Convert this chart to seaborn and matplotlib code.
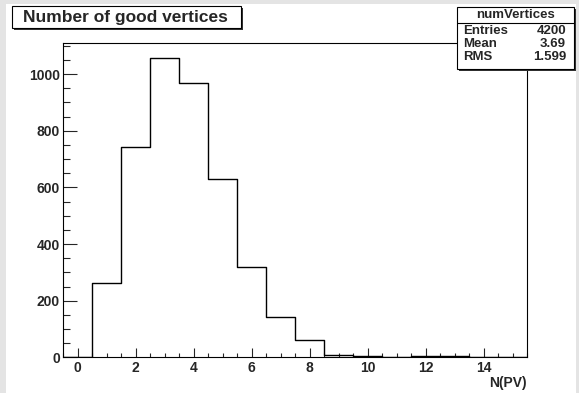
import numpy as np
import pandas as pd
import matplotlib
matplotlib.use("Agg")
import matplotlib.pyplot as plt
import seaborn as sns
from matplotlib.patches import Rectangle
from matplotlib.ticker import MultipleLocator, FixedLocator

# ---------------- data ----------------
bin_centers = [0, 1, 2, 3, 4, 5, 6, 7, 8, 9, 10, 11, 12, 13, 14, 15]
counts = [0, 263, 741, 1056, 970, 631, 318, 142, 61, 8, 4, 0, 3, 3, 0, 0]
x_ticks = [0, 2, 4, 6, 8, 10, 12, 14]
y_ticks = [0, 200, 400, 600, 800, 1000]
title_text = "Number of good vertices"
hist_name = "numVertices"
stats_labels = ["Entries", "Mean", "RMS"]
stats_values = ["4200", "3.69", "1.599"]
x_label = "N(PV)"

# ---------------- figure ----------------
W, H = 579, 393
FONT = "Liberation Sans"
sns.set_style("ticks")
plt.rcParams["font.family"] = [FONT, "DejaVu Sans"]

fig = plt.figure(figsize=(W / 100, H / 100), dpi=100)
fig.patch.set_facecolor("#e4e4e4")


def fx(x):
    return x / W


def fy(y):
    return 1 - y / H


# white pad
fig.add_artist(Rectangle((fx(6), 0), fx(576 - 6), (H - 4) / H,
                         transform=fig.transFigure, facecolor="white",
                         edgecolor="none", zorder=0))

L, R, T, B = 63.3, 527.0, 43.3, 357.3
ax = fig.add_axes([fx(L), fy(B), fx(R - L), (B - T) / H])
ax.set_facecolor("white")

df = pd.DataFrame({"nPV": bin_centers, "count": counts})
edges = [e - 0.5 for e in range(0, 17)]
sns.histplot(data=df, x="nPV", weights="count", bins=edges, element="step",
             fill=False, color="black", linewidth=1.0, ax=ax)

ax.set_xlim(-0.5, 15.5)
ax.set_ylim(0, 1.05 * max(counts))
ax.set_xlabel("")
ax.set_ylabel("")

ax.xaxis.set_major_locator(FixedLocator(x_ticks))
ax.xaxis.set_minor_locator(MultipleLocator(0.5))
ax.yaxis.set_major_locator(FixedLocator(y_ticks))
ax.yaxis.set_minor_locator(MultipleLocator(50))
ax.set_xticklabels([str(v) for v in x_ticks])
ax.set_yticklabels([str(v) for v in y_ticks])

ax.tick_params(axis="x", which="major", direction="in", length=6.5, width=0.8,
               pad=3, labelsize=10, top=False)
ax.tick_params(axis="x", which="minor", direction="in", length=3.2, width=0.8, top=False)
ax.tick_params(axis="y", which="major", direction="in", length=10, width=0.8,
               pad=2.5, labelsize=10, right=False)
ax.tick_params(axis="y", which="minor", direction="in", length=5, width=0.8, right=False)
for lab in ax.get_xticklabels() + ax.get_yticklabels():
    lab.set_fontweight("bold")
for s in ax.spines.values():
    s.set_visible(True)
    s.set_color("black")
    s.set_linewidth(0.8)

fig.text(fx(527), fy(383), x_label, ha="right", va="center",
         fontsize=10, fontweight="bold")


def box(x0, y0, x1, y1):
    # shadow
    fig.add_artist(Rectangle((fx(x0 + 2), fy(y1 + 2)), fx(x1 - x0), (y1 - y0) / H,
                             transform=fig.transFigure, facecolor="#333333",
                             edgecolor="none", zorder=5))
    fig.add_artist(Rectangle((fx(x0), fy(y1)), fx(x1 - x0), (y1 - y0) / H,
                             transform=fig.transFigure, facecolor="white",
                             edgecolor="black", linewidth=0.8, zorder=6))


# title box
box(11.7, 5.7, 240.7, 28.3)
fig.text(fx(22.7), fy(17.2), title_text, ha="left", va="center",
         fontsize=12.5, fontweight="bold", zorder=7)

# stats box
box(457.3, 6.7, 574, 69)
fig.add_artist(plt.Line2D([fx(457.3), fx(574)], [fy(22.7), fy(22.7)],
                          transform=fig.transFigure, color="black",
                          linewidth=0.8, zorder=7))
fig.text(fx(515.6), fy(15), hist_name, ha="center", va="center",
         fontsize=9.5, fontweight="bold", zorder=7)
for i, (lab, val) in enumerate(zip(stats_labels, stats_values)):
    yy = 30.5 + i * 13.3
    fig.text(fx(463), fy(yy), lab, ha="left", va="center",
             fontsize=9.5, fontweight="bold", zorder=7)
    fig.text(fx(566), fy(yy), val, ha="right", va="center",
             fontsize=9.5, fontweight="bold", zorder=7)

fig.savefig("out.png", dpi=100, facecolor=fig.get_facecolor())
